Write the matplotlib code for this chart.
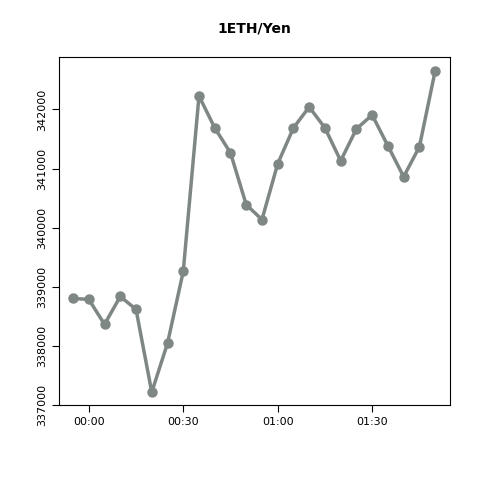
import matplotlib
matplotlib.use('Agg')
import matplotlib.pyplot as plt

# minutes relative to 00:00
minutes = [-5, 0, 5, 10, 15, 20, 25, 30, 35, 40, 45, 50, 55, 60, 65, 70, 75, 80, 85, 90, 95, 100, 105, 110]
price = [338804, 338788, 338366, 338838, 338619, 337219, 338046, 339260, 342228, 341688,
         341266, 340390, 340137, 341081, 341688, 342042, 341688, 341132, 341671, 341907,
         341385, 340862, 341368, 342650]
tick_pos = [0, 30, 60, 90]
tick_labels = ['00:00', '00:30', '01:00', '01:30']
yticks = [337000, 338000, 339000, 340000, 341000, 342000]

fig = plt.figure(figsize=(4.8, 4.8), dpi=100)
ax = fig.add_axes([0.123, 0.156, 0.815, 0.725])
ax.plot(minutes, price, color='#7f8784', lw=2.5, marker='o', ms=6.5)
ax.set_xlim(-9.45, 114.8)
ax.set_ylim(337017, 342885)
ax.set_xticks(tick_pos)
ax.set_xticklabels(tick_labels, fontsize=8)
ax.set_yticks(yticks)
ax.set_yticklabels([str(v) for v in yticks], fontsize=8, rotation=90, va='center')
ax.tick_params(direction='out', length=5)
ax.set_title('1ETH/Yen', fontsize=10, fontweight='bold', pad=18)
fig.savefig('out.png', dpi=100)
